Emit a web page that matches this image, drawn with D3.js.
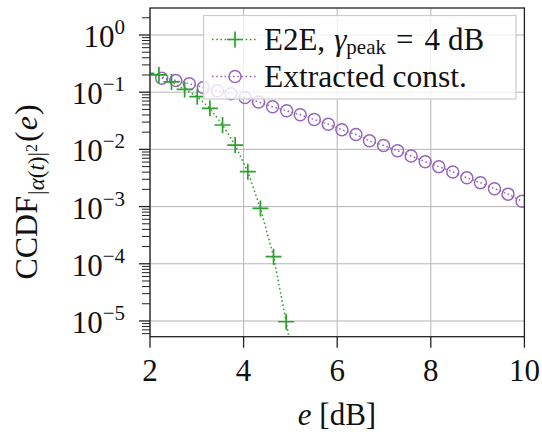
<!DOCTYPE html>
<html><head><meta charset="utf-8">
<script src="https://cdn.jsdelivr.net/npm/d3@7/dist/d3.min.js"></script>
<style>
html,body{margin:0;padding:0;background:#fff;}
svg{display:block;font-family:"Liberation Serif","DejaVu Serif",serif;}
</style></head>
<body>
<svg id="c" width="542" height="432"></svg>
<script>
// ---- data ----
const xTicks = [2, 4, 6, 8, 10];
const yTickExps = [0, -1, -2, -3, -4, -5];
const e2eX = [1.92, 2.19, 2.46, 2.74, 3.01, 3.28, 3.55, 3.82, 4.09, 4.36, 4.64, 4.91, 5.18];
const e2eY = [0.213, 0.20, 0.151, 0.112, 0.0834, 0.0523, 0.0267, 0.0119, 0.00407, 9.27e-4, 1.33e-4, 9.7e-6, 5.1e-7];
const extX = [2.25, 2.55, 2.84, 3.14, 3.44, 3.73, 4.03, 4.32, 4.62, 4.92, 5.21, 5.51, 5.81, 6.10, 6.40, 6.69, 6.99, 7.29, 7.58, 7.88, 8.17, 8.47, 8.77, 9.06, 9.36, 9.65, 9.95];
const extY = [0.175, 0.160, 0.140, 0.121, 0.106, 0.0941, 0.0808, 0.0674, 0.0558, 0.0473, 0.0403, 0.0333, 0.0276, 0.0220, 0.0182, 0.0141, 0.0117, 0.00946, 0.00767, 0.00610, 0.00499, 0.00403, 0.00318, 0.00262, 0.00205, 0.00165, 0.00124];
const seriesNames = ["E2E", "Extracted const."];
const xDomain = [2, 10];
const yDomain = [Math.pow(10, -5.275), Math.pow(10, 0.472)];

// ---- layout ----
const L = 150, R = 524.4, T = 8, B = 336.7;
const green = "#2ca02c", purple = "#9467bd";
const svg = d3.select("#c");
const x = d3.scaleLinear().domain(xDomain).range([L, R]);
const y = d3.scaleLog().domain(yDomain).range([B, T]);

svg.append("defs").append("clipPath").attr("id", "clip")
  .append("rect").attr("x", L).attr("y", T).attr("width", R - L).attr("height", B - T);

// grid
const grid = svg.append("g").attr("stroke", "#b4b4b4").attr("stroke-width", 1);
xTicks.forEach(t => grid.append("line").attr("x1", x(t)).attr("x2", x(t)).attr("y1", T).attr("y2", B));
yTickExps.forEach(e => grid.append("line").attr("x1", L).attr("x2", R).attr("y1", y(Math.pow(10, e))).attr("y2", y(Math.pow(10, e))));

// series
const plot = svg.append("g").attr("clip-path", "url(#clip)");
const line = d3.line().x(d => x(d[0])).y(d => y(d[1]));
const e2e = e2eX.map((v, i) => [v, e2eY[i]]);
const ext = extX.map((v, i) => [v, extY[i]]);
plot.append("path").datum(ext).attr("d", line).attr("fill", "none")
  .attr("stroke", purple).attr("stroke-width", 1.5).attr("stroke-dasharray", "1.6,2.6");
plot.append("path").datum(e2e).attr("d", line).attr("fill", "none")
  .attr("stroke", green).attr("stroke-width", 1.5).attr("stroke-dasharray", "1.6,2.6");
plot.selectAll("circle.ext").data(ext).join("circle").attr("class", "ext")
  .attr("cx", d => x(d[0])).attr("cy", d => y(d[1])).attr("r", 6)
  .attr("fill", "none").attr("stroke", purple).attr("stroke-width", 1.5);
plot.selectAll("path.e2e").data(e2e).join("path").attr("class", "e2e")
  .attr("d", d => `M${x(d[0]) - 8},${y(d[1])}h16M${x(d[0])},${y(d[1]) - 8}v16`)
  .attr("stroke", green).attr("stroke-width", 1.7).attr("fill", "none");

// legend
const lg = svg.append("g");
lg.append("rect").attr("x", 203.5).attr("y", 15.5).attr("width", 312.5).attr("height", 83.5)
  .attr("fill", "#fff").attr("fill-opacity", 0.8).attr("stroke", "#cccccc").attr("stroke-width", 1.2);
const rows = [39.5, 76.5];
lg.append("line").attr("x1", 212).attr("x2", 258).attr("y1", rows[0]).attr("y2", rows[0])
  .attr("stroke", green).attr("stroke-width", 1.5).attr("stroke-dasharray", "1.6,2.6");
lg.append("path").attr("d", `M227,${rows[0]}h16M235,${rows[0] - 8}v16`).attr("stroke", green).attr("stroke-width", 1.7);
lg.append("line").attr("x1", 212).attr("x2", 258).attr("y1", rows[1]).attr("y2", rows[1])
  .attr("stroke", purple).attr("stroke-width", 1.5).attr("stroke-dasharray", "1.6,2.6");
lg.append("circle").attr("cx", 235).attr("cy", rows[1]).attr("r", 6).attr("fill", "none")
  .attr("stroke", purple).attr("stroke-width", 1.5);
const t1 = lg.append("text").attr("x", 264).attr("y", rows[0] + 10.5).attr("font-size", 31).attr("fill", "#111");
t1.append("tspan").text(seriesNames[0] + ",");
t1.append("tspan").attr("dx", 9).attr("font-style", "italic").text("γ");
t1.append("tspan").attr("font-size", 21).attr("dy", 4).text("peak");
t1.append("tspan").attr("dy", -4).attr("dx", 10).text("=");
t1.append("tspan").attr("dx", 11).text("4");
t1.append("tspan").attr("dx", 8).text("dB");
lg.append("text").attr("x", 264).attr("y", rows[1] + 10.5).attr("font-size", 31.5).attr("fill", "#111").text(seriesNames[1]);

// axes box
svg.append("rect").attr("x", L).attr("y", T).attr("width", R - L).attr("height", B - T)
  .attr("fill", "none").attr("stroke", "#222").attr("stroke-width", 1.3);

// x ticks
const ax = svg.append("g");
xTicks.forEach(t => {
  ax.append("line").attr("x1", x(t)).attr("x2", x(t)).attr("y1", B).attr("y2", B + 11).attr("stroke", "#222").attr("stroke-width", 1.3);
  ax.append("text").attr("x", x(t)).attr("y", 381).attr("text-anchor", "middle").attr("font-size", 31).attr("fill", "#111").text(t);
});
// y ticks: major + minor
yTickExps.forEach(e => {
  const yy = y(Math.pow(10, e));
  ax.append("line").attr("x1", L - 11).attr("x2", L).attr("y1", yy).attr("y2", yy).attr("stroke", "#222").attr("stroke-width", 1.3);
  const tx = ax.append("text").attr("x", 125).attr("y", yy + 12).attr("text-anchor", "end").attr("font-size", 31).attr("fill", "#111");
  tx.append("tspan").text("10");
  tx.append("tspan").attr("font-size", 21).attr("dy", -13).text(e === 0 ? "0" : "\u2212" + (-e));
});
for (let e = -6; e <= 0; e++) {
  for (let m = 2; m <= 9; m++) {
    const v = m * Math.pow(10, e);
    if (v < yDomain[0] || v > yDomain[1]) continue;
    const yy = y(v);
    ax.append("line").attr("x1", L - 8).attr("x2", L).attr("y1", yy).attr("y2", yy).attr("stroke", "#222").attr("stroke-width", 1);
  }
}

// axis labels
const xl = svg.append("text").attr("x", 337).attr("y", 425).attr("text-anchor", "middle").attr("font-size", 31).attr("fill", "#111");
xl.append("tspan").attr("font-style", "italic").text("e");
xl.append("tspan").text(" [dB]");

const yl = svg.append("text").attr("transform", `translate(37,192) rotate(-90)`)
  .attr("text-anchor", "middle").attr("font-size", 32).attr("fill", "#111");
yl.append("tspan").text("CCDF");
yl.append("tspan").attr("font-size", 23).attr("dy", 7).attr("dx", 1).text("|");
yl.append("tspan").attr("font-size", 23).attr("font-style", "italic").text("α");
yl.append("tspan").attr("font-size", 23).text("(");
yl.append("tspan").attr("font-size", 23).attr("font-style", "italic").text("t");
yl.append("tspan").attr("font-size", 23).text(")|");
yl.append("tspan").attr("font-size", 16).attr("dy", -7).text("2");
yl.append("tspan").attr("dy", 0).attr("dx", 2).text("(");
yl.append("tspan").attr("font-style", "italic").attr("dx", 1).text("e");
yl.append("tspan").attr("dx", 1).text(")");
</script>
</body></html>
